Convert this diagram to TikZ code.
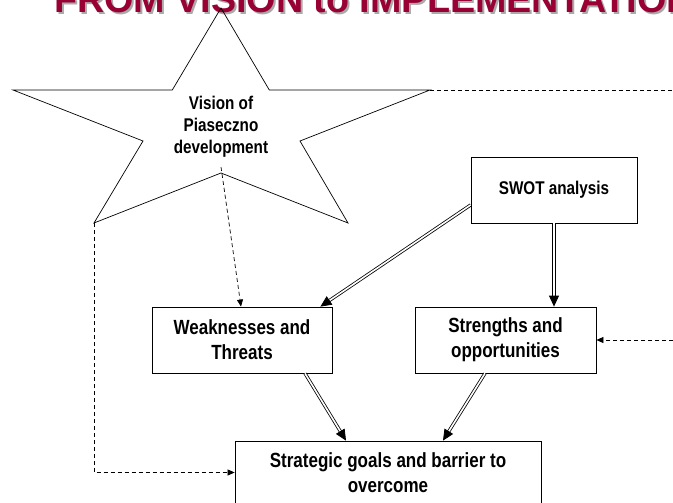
\documentclass[tikz,border=0pt]{standalone}
\usepackage{fontspec}
\setmainfont{Liberation Sans}
\newfontfamily\narrowsans[FakeStretch=0.83]{Liberation Sans}
\usetikzlibrary{arrows.meta,calc}
\definecolor{titlered}{RGB}{153,0,51}
\definecolor{titleshadow}{RGB}{170,170,170}
\newcommand\dblarrow[2]{%
  \draw[dblline] (#1) -- ($(#2)!9pt!(#1)$);
  \draw[dbltip] ($(#2)!11pt!(#1)$) -- (#2);}
\begin{document}
\begin{tikzpicture}[x=1pt,y=-1pt,
  box/.style={draw,line width=0.8pt,rectangle,align=center,inner sep=0pt,
    font=\narrowsans\bfseries\fontsize{20.5}{24.7}\selectfont},
  smallbox/.style={box,font=\narrowsans\bfseries\fontsize{18.4}{22}\selectfont},
  titletext/.style={anchor=base west,inner sep=0pt,
    font=\bfseries\fontsize{37.7}{40}\selectfont},
  dblline/.style={line width=0.8pt,double=white,double distance=1.6pt},
  dbltip/.style={line width=0.8pt,-{Triangle[length=11pt,width=10pt]}},
  dashline/.style={line width=0.7pt,dash pattern=on 4pt off 3pt,-{Triangle[length=7pt,width=6pt]}},
  dashplain/.style={line width=0.7pt,dash pattern=on 4pt off 3pt}]
\useasboundingbox (0,0) rectangle (673,503);
\clip (0,0) rectangle (673,503);
% title
\node[titletext,text=titleshadow] (tshadow) at (56,14.5) {FROM VISION to IMPLEMENTATION};
\node[titletext,text=titlered] (title) at (54,12.5) {FROM VISION to IMPLEMENTATION};
% star
\draw[line width=0.7pt] (221,8) -- (269.3,90) -- (430,90) -- (300,141) -- (348,223)
  -- (221,173) -- (94,223) -- (143,141) -- (13,90) -- (172.3,90) -- cycle;
\node[align=center,inner sep=0pt,font=\narrowsans\bfseries\fontsize{18.4}{22}\selectfont]
  (vision) at (221,126.5) {Vision of\\Piaseczno\\development};
\coordinate (starR) at (430,90);
\coordinate (starBL) at (94,223);
\coordinate (starB) at (221,167);
\coordinate (edgeR) at (673,90);
\coordinate (edgeS) at (673,340);
% boxes
\node[smallbox,minimum width=166pt,minimum height=66pt] (swot) at (554,190) {SWOT analysis};
\node[box,minimum width=180pt,minimum height=66pt] (weak) at (242,340) {Weaknesses and\\Threats};
\node[box,minimum width=181pt,minimum height=66pt] (stren) at (505.5,340) {Strengths and\\opportunities};
\node[box,minimum width=306pt,minimum height=63pt] (goals) at (388,472.5) {Strategic goals and barrier to\\overcome};
% double arrows
\coordinate (a1s) at ([yshift=-15pt]swot.west);
\coordinate (a1e) at ([xshift=-12pt]weak.north east);
\coordinate (a2s) at (swot.south);
\coordinate (a2e) at (swot.south |- stren.north);
\coordinate (a3s) at ([xshift=63pt]weak.south);
\coordinate (a3e) at ([xshift=-42pt]goals.north);
\coordinate (a4s) at ([xshift=-20.5pt]stren.south);
\coordinate (a4e) at ([xshift=55pt]goals.north);
\dblarrow{a1s}{a1e}
\dblarrow{a2s}{a2e}
\dblarrow{a3s}{a3e}
\dblarrow{a4s}{a4e}
% dashed connectors
\draw[dashline] (starB) -- ([xshift=-1pt]weak.north);
\draw[dashline] (starBL) -- (starBL |- goals.west) -- (goals.west);
\draw[dashplain] (starR) -- (edgeR);
\draw[dashline] (edgeS) -- (stren.east);
\end{tikzpicture}
\end{document}
